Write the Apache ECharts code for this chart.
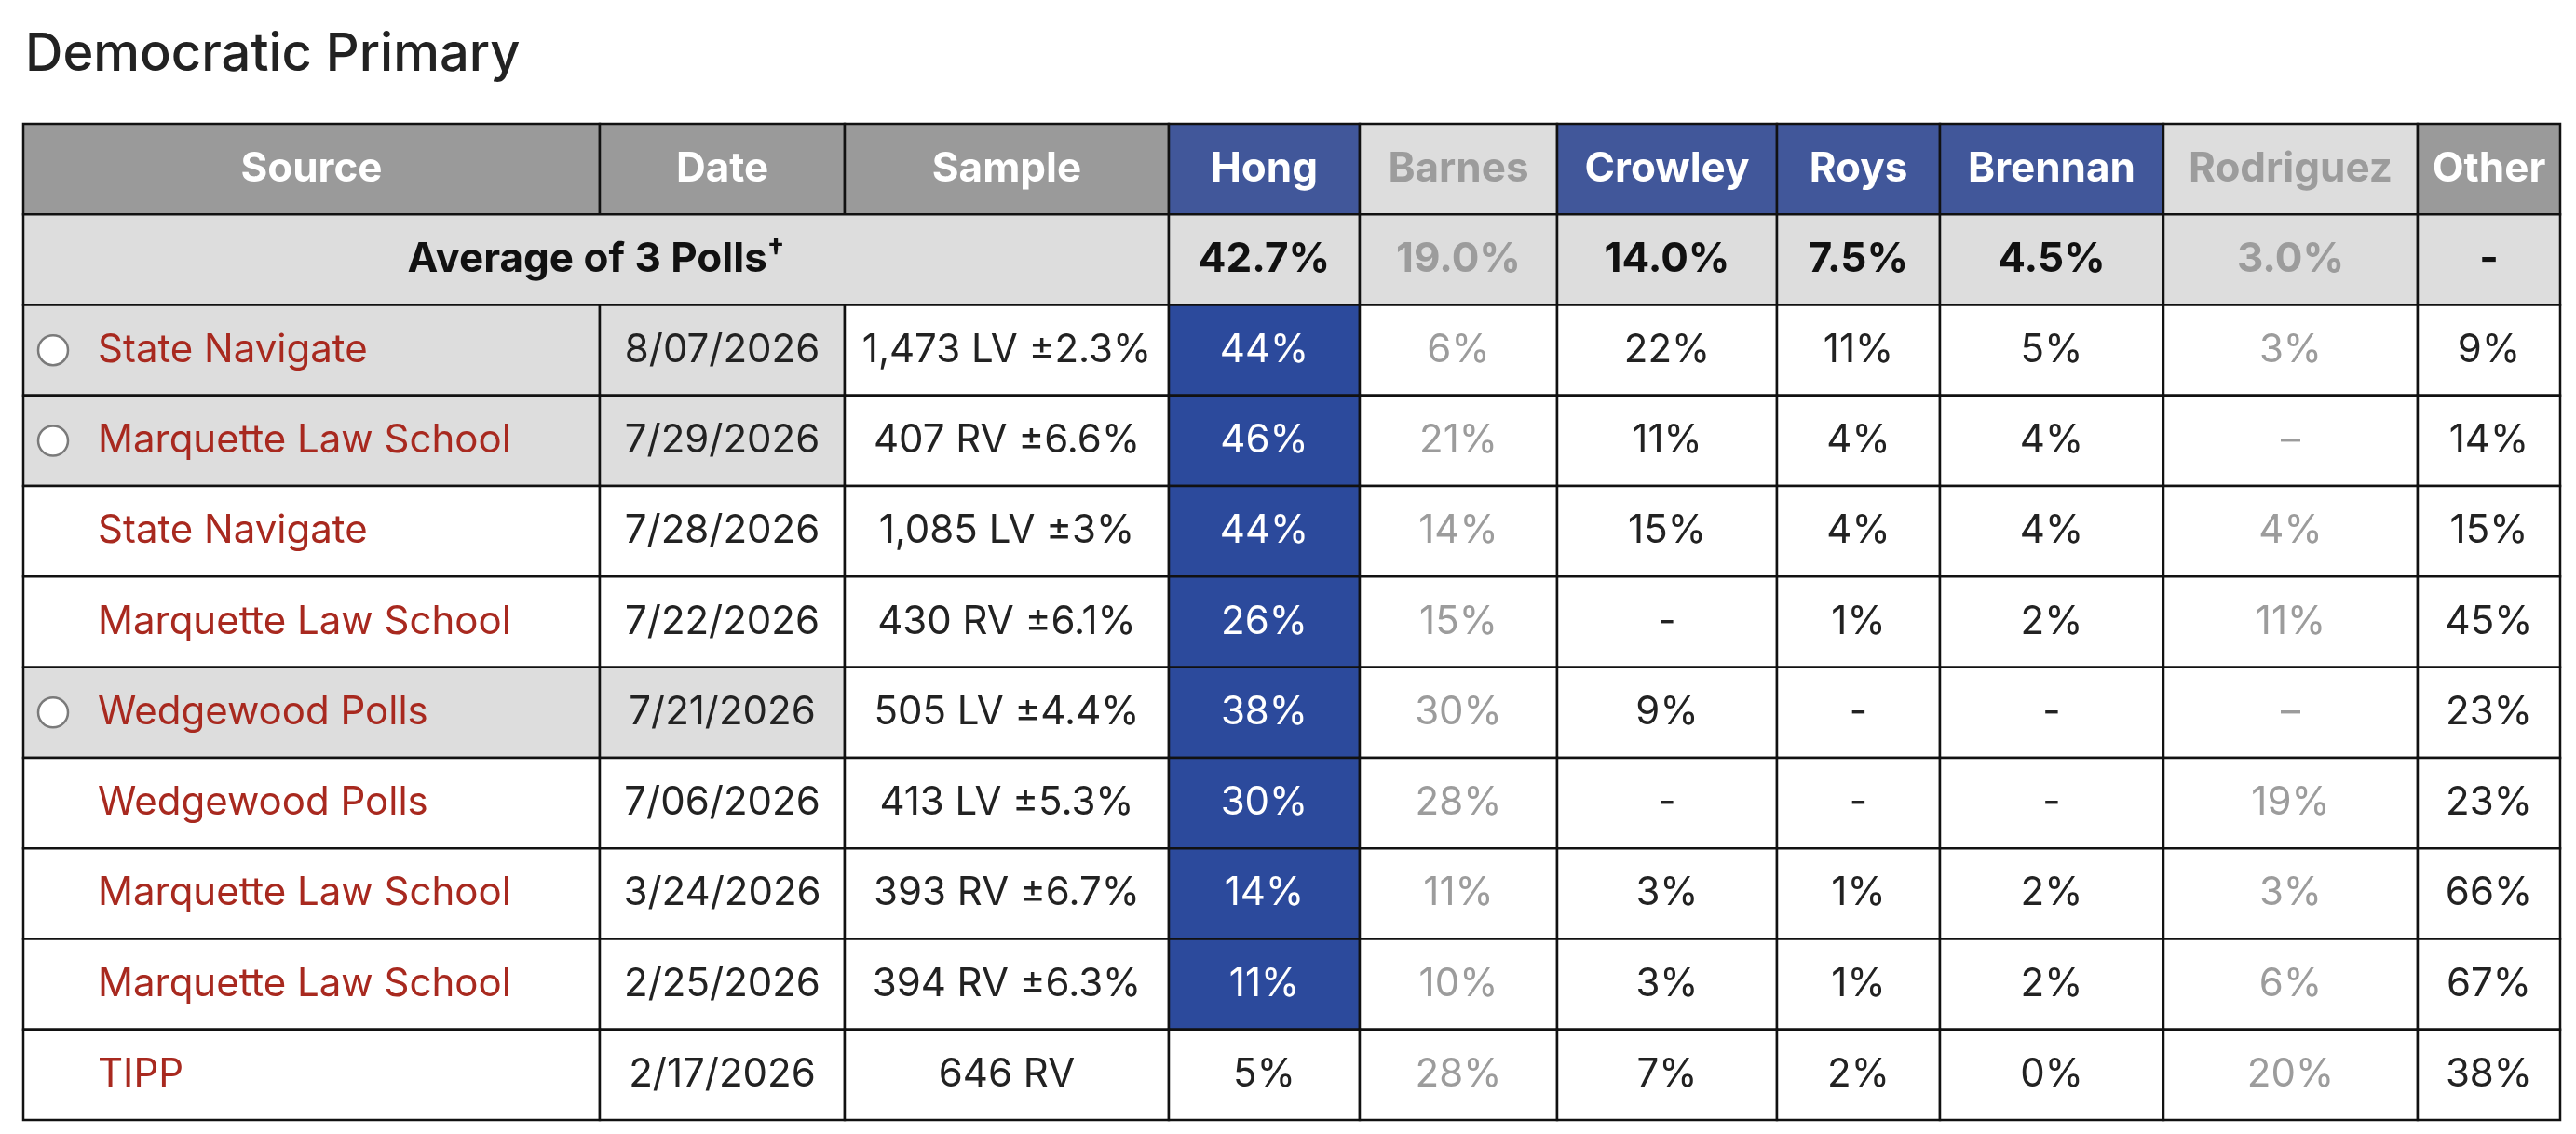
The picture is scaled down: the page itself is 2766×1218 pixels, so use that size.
<!DOCTYPE html>
<html>
<head>
<meta charset="utf-8">
<script src="https://cdn.jsdelivr.net/npm/echarts@6/dist/echarts.min.js"></script>
<style>
html, body { margin: 0; padding: 0; background: #fff; }
#tableChart { width: 2766px; height: 1218px; }
</style>
</head>
<body>
<div id="tableChart"></div>
<script>
// poll rows, newest first
var sources = ['State Navigate', 'Marquette Law School', 'State Navigate', 'Marquette Law School', 'Wedgewood Polls',
    'Wedgewood Polls', 'Marquette Law School', 'Marquette Law School', 'TIPP'];
var dates = ['8/07/2026', '7/29/2026', '7/28/2026', '7/22/2026', '7/21/2026', '7/06/2026', '3/24/2026', '2/25/2026', '2/17/2026'];
var samples = ['1,473 LV ±2.3%', '407 RV ±6.6%', '1,085 LV ±3%', '430 RV ±6.1%', '505 LV ±4.4%', '413 LV ±5.3%',
    '393 RV ±6.7%', '394 RV ±6.3%', '646 RV'];
var inAverage = [true, true, false, false, true, false, false, false, false];

var candidates = ['Hong', 'Barnes', 'Crowley', 'Roys', 'Brennan', 'Rodriguez'];
var activeCandidates = [true, false, true, true, true, false];
var hong = [44, 46, 44, 26, 38, 30, 14, 11, 5];
var barnes = [6, 21, 14, 15, 30, 28, 11, 10, 28];
var crowley = [22, 11, 15, null, 9, null, 3, 3, 7];
var roys = [11, 4, 4, 1, null, null, 1, 1, 2];
var brennan = [5, 4, 4, 2, null, null, 2, 2, 0];
var rodriguez = [3, null, 4, 11, null, 19, 3, 6, 20];
var other = [9, 14, 15, 45, 23, 23, 66, 67, 38];
var averages = [42.7, 19.0, 14.0, 7.5, 4.5, 3.0, null];
var averageLabel = 'Average of 3 Polls';

// layout: column edges in px from the table's left side
var colEdges = [0, 619, 882, 1230, 1435, 1647, 1883, 2058, 2298, 2571, 2724];
var FONT = 'Inter, "Liberation Sans", Arial, sans-serif';
var BLUE_HEAD = '#41579a', BLUE_CELL = '#2c4a9c', GRAY_HEAD = '#9a9a9a', LIGHT = '#dddddd';
var TEXT = '#222222', MUTED = '#9c9c9c', LINK = '#a8291f';

var candValues = [hong, barnes, crowley, roys, brennan, rodriguez];
var rowNames = ['header', 'average'].concat(dates);
var cells = [];

// header row
['Source', 'Date', 'Sample'].forEach(function (t, i) {
    cells.push({col: i, row: 0, span: 1, text: t, bg: GRAY_HEAD, color: '#fff', bold: true});
});
candidates.forEach(function (t, i) {
    cells.push({col: 3 + i, row: 0, span: 1, text: t,
        bg: activeCandidates[i] ? BLUE_HEAD : LIGHT, color: activeCandidates[i] ? '#fff' : MUTED, bold: true});
});
cells.push({col: 9, row: 0, span: 1, text: 'Other', bg: GRAY_HEAD, color: '#fff', bold: true});

// average row
cells.push({col: 0, row: 1, span: 3, text: '{a|' + averageLabel + '}{s|†}', rich: true, bg: LIGHT, color: '#111', bold: true});
averages.forEach(function (v, i) {
    var muted = i < 6 && !activeCandidates[i];
    cells.push({col: 3 + i, row: 1, span: 1, text: v == null ? '-' : v.toFixed(1) + '%',
        bg: LIGHT, color: muted ? MUTED : '#111', bold: true});
});

// poll rows
dates.forEach(function (d, r) {
    var row = r + 2;
    var lead = 0;
    candValues.forEach(function (arr, i) {
        if ((arr[r] || 0) > (candValues[lead][r] || 0)) lead = i;
    });
    cells.push({col: 0, row: row, span: 1, text: sources[r], bg: inAverage[r] ? LIGHT : '#fff',
        color: LINK, align: 'left', radio: inAverage[r]});
    cells.push({col: 1, row: row, span: 1, text: d, bg: inAverage[r] ? LIGHT : '#fff', color: TEXT});
    cells.push({col: 2, row: row, span: 1, text: samples[r], bg: '#fff', color: TEXT});
    candValues.forEach(function (arr, i) {
        var v = arr[r];
        var hi = i === lead && activeCandidates[i];
        var txt = v == null ? (activeCandidates[i] ? '-' : '–') : v + '%';
        cells.push({col: 3 + i, row: row, span: 1, text: txt, bg: hi ? BLUE_CELL : '#fff',
            color: hi ? '#fff' : (activeCandidates[i] ? TEXT : MUTED)});
    });
    cells.push({col: 9, row: row, span: 1, text: other[r] + '%', bg: '#fff', color: TEXT});
});

function renderCell(params, api) {
    var c = cells[params.dataIndex];
    var row = api.value(1);
    var p0 = api.coord([colEdges[c.col], row]);
    var p1 = api.coord([colEdges[c.col + c.span], row]);
    var h = api.size([0, 1])[1];
    var x0 = p0[0], x1 = p1[0], yc = p0[1];
    var kids = [{
        type: 'rect',
        shape: {x: x0, y: yc - h / 2, width: x1 - x0, height: h},
        style: {fill: c.bg, stroke: '#111', lineWidth: 2.5}
    }];
    if (c.radio) {
        kids.push({type: 'circle', shape: {cx: x0 + 32, cy: yc, r: 16},
            style: {fill: '#fff', stroke: '#7a7a7a', lineWidth: 2.5}});
    }
    var ts = {
        x: c.align === 'left' ? x0 + 80 : (x0 + x1) / 2, y: yc,
        text: c.text, fill: c.color, fontSize: c.bold ? 44 : 42, fontFamily: FONT,
        fontWeight: c.bold ? 'bold' : 'normal',
        align: c.align === 'left' ? 'left' : 'center', verticalAlign: 'middle'
    };
    if (c.rich) {
        ts.rich = {
            a: {fontSize: 44, fontFamily: FONT, fontWeight: 'bold', fill: c.color, lineHeight: 50},
            s: {fontSize: 32, fontFamily: FONT, fontWeight: 'bold', fill: c.color, verticalAlign: 'top', lineHeight: 50}
        };
    }
    kids.push({type: 'text', style: ts});
    return {type: 'group', children: kids};
}

var myChart = echarts.init(document.getElementById('tableChart'));
var option = {
    backgroundColor: '#fff',
    animation: false,
    title: {
        text: 'Democratic Primary',
        left: 22,
        top: 26,
        textStyle: {fontSize: 56, fontWeight: 500, color: '#222', fontFamily: FONT}
    },
    grid: {left: 25, top: 133, width: 2724, height: 1070},
    xAxis: {type: 'value', min: 0, max: colEdges[colEdges.length - 1], show: false},
    yAxis: {type: 'category', data: rowNames, inverse: true, show: false},
    series: [{
        type: 'custom',
        clip: false,
        renderItem: renderCell,
        encode: {x: 0, y: 1},
        data: cells.map(function (c) { return [colEdges[c.col], c.row, c.span]; })
    }]
};
myChart.setOption(option);
window.addEventListener('resize', function () {
    myChart.resize();
});
</script>
</body>
</html>
